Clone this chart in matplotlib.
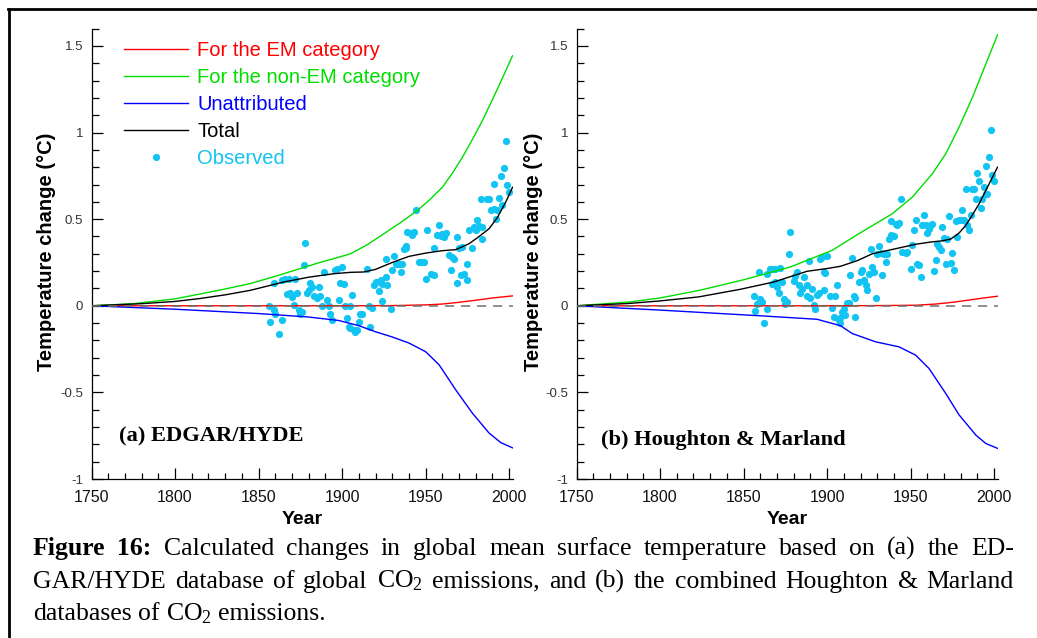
import matplotlib
matplotlib.use('Agg')
import matplotlib.pyplot as plt
from matplotlib.lines import Line2D
from matplotlib.ticker import MultipleLocator, FuncFormatter

plt.rcParams['font.family'] = ['Liberation Sans', 'DejaVu Sans']
plt.rcParams['axes.unicode_minus'] = False
plt.rcParams['mathtext.fontset'] = 'custom'
plt.rcParams['mathtext.rm'] = 'Liberation Serif'
plt.rcParams['mathtext.it'] = 'Liberation Serif:italic'
plt.rcParams['mathtext.bf'] = 'Liberation Serif:bold'

# ---------------- data : panel (a) EDGAR/HYDE ----------------
green_a_years = [1750, 1775, 1800, 1815, 1830, 1845, 1860, 1875, 1885, 1895, 1905, 1915, 1925,
                 1935, 1945, 1952, 1960, 1966, 1972, 1978, 1984, 1990, 1996, 2002]
green_a = [0, 0.012, 0.04, 0.068, 0.097, 0.128, 0.17, 0.215, 0.245, 0.272, 0.3, 0.352, 0.416,
           0.48, 0.55, 0.608, 0.684, 0.765, 0.857, 0.96, 1.069, 1.19, 1.315, 1.443]
black_a_years = [1750, 1780, 1800, 1815, 1830, 1845, 1865, 1880, 1895, 1905, 1913, 1920, 1930,
                 1940, 1950, 1960, 1968, 1976, 1982, 1988, 1993, 1998, 2002]
black_a = [0, 0.012, 0.025, 0.042, 0.063, 0.089, 0.137, 0.165, 0.185, 0.193, 0.195, 0.21, 0.25,
           0.285, 0.304, 0.318, 0.324, 0.358, 0.4, 0.445, 0.51, 0.6, 0.684]
red_a_years = [1750, 1800, 1850, 1900, 1930, 1950, 1960, 1970, 1980, 1990, 2002]
red_a = [0, 0, 0, 0, 0.001, 0.005, 0.01, 0.02, 0.032, 0.045, 0.057]
blue_a_years = [1750, 1800, 1850, 1880, 1898, 1910, 1920, 1930, 1940, 1950, 1958, 1968, 1978,
                1988, 1995, 2002]
blue_a = [0, -0.02, -0.045, -0.065, -0.085, -0.115, -0.15, -0.18, -0.215, -0.265, -0.34, -0.485,
          -0.62, -0.735, -0.79, -0.82]
obs_a_years = [1856, 1857, 1859, 1860, 1862, 1864, 1859, 1864, 1866, 1868,
               1867, 1869, 1870, 1872, 1873, 1871, 1874, 1875, 1876, 1878,
               1877, 1879, 1880, 1881, 1882, 1883, 1885, 1886, 1887, 1888,
               1889, 1891, 1892, 1893, 1894, 1896, 1897, 1898, 1899, 1900,
               1901, 1902, 1903, 1905, 1906, 1904, 1905, 1907, 1908, 1909,
               1910, 1911, 1912, 1915, 1916, 1917, 1918, 1919, 1920, 1922,
               1923, 1924, 1924, 1926, 1927, 1926, 1929, 1930, 1931, 1932,
               1933, 1934, 1935, 1936, 1937, 1938, 1938, 1939, 1941, 1942,
               1943, 1944, 1946, 1947, 1949, 1950, 1951, 1953, 1955, 1955,
               1957, 1958, 1959, 1960, 1961, 1962, 1964, 1965, 1966, 1967,
               1969, 1969, 1970, 1971, 1972, 1973, 1975, 1975, 1976, 1978,
               1979, 1980, 1981, 1982, 1984, 1984, 1983, 1987, 1988, 1989,
               1991, 1992, 1993, 1994, 1991, 1995, 1996, 1997, 1999, 2000, 1998]
obs_a = [0.0, -0.093, -0.025, -0.045, -0.164, -0.083, 0.134, 0.147, 0.157, 0.157,
         0.067, 0.071, 0.048, 0.157, 0.076, 0.003, -0.025, -0.045, -0.035, 0.364,
         0.238, 0.076, 0.09, 0.134, 0.109, 0.057, 0.042, 0.109, 0.057, 0.0,
         0.195, 0.032, 0.0, -0.048, -0.083, 0.209, 0.215, 0.032, 0.134, 0.224,
         0.128, 0.0, -0.073, 0.0, 0.061, -0.121, -0.131, -0.14, -0.15, -0.14,
         -0.093, -0.045, -0.045, 0.215, 0.0, -0.121, -0.012, 0.119, 0.138, 0.086,
         0.147, 0.026, 0.128, 0.167, 0.119, 0.272, -0.016, 0.205, 0.286, 0.244,
         0.24, 0.24, 0.195, 0.24, 0.33, 0.345, 0.336, 0.426, 0.42, 0.407,
         0.426, 0.554, 0.253, 0.253, 0.253, 0.157, 0.435, 0.186, 0.176, 0.336,
         0.407, 0.468, 0.401, 0.416, 0.397, 0.42, 0.291, 0.205, 0.282, 0.272,
         0.397, 0.134, 0.336, 0.176, 0.34, 0.186, 0.244, 0.147, 0.435, 0.336,
         0.455, 0.435, 0.493, 0.46, 0.455, 0.387, 0.614, 0.614, 0.614, 0.554,
         0.56, 0.503, 0.551, 0.624, 0.704, 0.748, 0.583, 0.796, 0.695, 0.656, 0.954]

# ---------------- data : panel (b) Houghton & Marland ----------------
green_b_years = [1750, 1782, 1800, 1824, 1850, 1878, 1903, 1919, 1939, 1951, 1963, 1971, 1979,
                 1987, 1995, 2002]
green_b = [0, 0.022, 0.045, 0.09, 0.15, 0.224, 0.32, 0.416, 0.531, 0.627, 0.762, 0.877, 1.031,
           1.203, 1.395, 1.564]
black_b_years = [1750, 1781, 1800, 1823, 1848, 1868, 1888, 1900, 1908, 1918, 1927, 1939, 1953,
                 1962, 1969, 1974, 1979, 1983, 1987, 1991, 1997, 2002]
black_b = [0, 0.013, 0.028, 0.051, 0.095, 0.137, 0.199, 0.215, 0.228, 0.26, 0.3, 0.325, 0.355,
           0.368, 0.375, 0.385, 0.42, 0.464, 0.525, 0.589, 0.704, 0.8]
red_b_years = [1750, 1800, 1850, 1900, 1930, 1953, 1965, 1975, 1985, 1993, 2002]
red_b = [0, 0, 0, 0, 0.001, 0.003, 0.01, 0.02, 0.033, 0.044, 0.055]
blue_b_years = [1750, 1800, 1862, 1894, 1908, 1915, 1929, 1943, 1953, 1961, 1971, 1979, 1989,
                1995, 2002]
blue_b = [0, -0.025, -0.059, -0.078, -0.115, -0.16, -0.208, -0.237, -0.285, -0.362, -0.506,
          -0.63, -0.746, -0.795, -0.823]
obs_b_years = [1856, 1857, 1858, 1860, 1861, 1862, 1864, 1859, 1864, 1866,
               1867, 1869, 1867, 1869, 1870, 1871, 1872, 1873, 1874, 1875,
               1876, 1877, 1878, 1880, 1881, 1882, 1883, 1884, 1885, 1886,
               1888, 1888, 1889, 1890, 1891, 1892, 1893, 1894, 1895, 1896,
               1897, 1898, 1899, 1900, 1898, 1902, 1903, 1904, 1905, 1906,
               1907, 1908, 1909, 1910, 1911, 1908, 1912, 1913, 1915, 1914,
               1916, 1917, 1917, 1919, 1920, 1921, 1922, 1923, 1924, 1925,
               1926, 1927, 1928, 1929, 1930, 1931, 1932, 1933, 1934, 1935,
               1936, 1937, 1938, 1940, 1938, 1941, 1942, 1943, 1944, 1945,
               1947, 1948, 1950, 1951, 1952, 1953, 1954, 1955, 1956, 1957,
               1958, 1959, 1960, 1961, 1962, 1963, 1964, 1965, 1966, 1967,
               1968, 1969, 1970, 1971, 1972, 1973, 1974, 1975, 1976, 1977,
               1978, 1979, 1980, 1981, 1982, 1983, 1984, 1985, 1986, 1987,
               1988, 1989, 1990, 1991, 1992, 1993, 1994, 1995, 1996, 1995,
               1997, 1998, 1999, 2000]
obs_b = [0.057, -0.031, 0.013, 0.038, 0.023, -0.102, -0.021, 0.195, 0.182, 0.215,
         0.215, 0.215, 0.128, 0.138, 0.109, 0.071, 0.218, 0.138, 0.038, 0.013,
         0.023, 0.297, 0.426, 0.144, 0.173, 0.195, 0.119, 0.071, 0.096, 0.167,
         0.119, 0.057, 0.259, 0.046, 0.096, 0.007, -0.021, 0.061, 0.071, 0.272,
         0.282, 0.195, 0.19, 0.286, 0.09, 0.057, -0.012, -0.064, 0.057, 0.119,
         -0.083, -0.069, -0.035, -0.021, -0.054, -0.098, 0.017, 0.017, 0.276, 0.176,
         0.057, 0.046, -0.064, 0.138, 0.195, 0.205, 0.147, 0.119, 0.09, 0.186,
         0.328, 0.224, 0.195, 0.046, 0.297, 0.344, 0.305, 0.176, 0.301, 0.253,
         0.297, 0.388, 0.407, 0.401, 0.487, 0.474, 0.464, 0.478, 0.618, 0.311,
         0.305, 0.311, 0.215, 0.349, 0.439, 0.497, 0.244, 0.234, 0.167, 0.464,
         0.526, 0.464, 0.42, 0.445, 0.464, 0.474, 0.199, 0.267, 0.359, 0.339,
         0.324, 0.455, 0.391, 0.24, 0.388, 0.516, 0.247, 0.305, 0.205, 0.489,
         0.397, 0.493, 0.493, 0.551, 0.493, 0.676, 0.464, 0.439, 0.526, 0.676,
         0.676, 0.614, 0.766, 0.718, 0.566, 0.618, 0.685, 0.647, 0.647, 0.806,
         0.858, 1.017, 0.756, 0.718]

legend_labels = ['For the EM category', 'For the non-EM category', 'Unattributed', 'Total',
                 'Observed']
panel_titles = ['(a) EDGAR/HYDE', '(b) Houghton & Marland']
x_label = 'Year'
y_label = 'Temperature change (°C)'
caption_lines = [
    ['*Figure', '*16:', 'Calculated', 'changes', 'in', 'global', 'mean', 'surface',
     'temperature', 'based', 'on', '(a)', 'the', 'ED-'],
    ['GAR/HYDE', 'database', 'of', 'global', 'CO$_2$', 'emissions,', 'and', '(b)', 'the',
     'combined', 'Houghton', '&', 'Marland'],
    ['databases', 'of', 'CO$_2$', 'emissions.'],
]

C_RED, C_GREEN, C_BLUE, C_BLACK, C_OBS = '#ff0000', '#00dd00', '#0000ff', '#000000', '#12c4f2'

W, H = 1037, 638
fig = plt.figure(figsize=(W / 100, H / 100), dpi=100)


def px_rect(left, right, top, bottom):
    return [left / W, 1 - bottom / H, (right - left) / W, (bottom - top) / H]


ax_a = fig.add_axes(px_rect(91.5, 512.5, 28.6, 479))
ax_b = fig.add_axes(px_rect(576.5, 997.5, 28.6, 479))


def fmt(v, p):
    v = round(v, 3) + 0.0
    return f'{v:g}'


def style(ax, ylab_x):
    ax.set_xlim(1750, 2002)
    ax.set_ylim(-1, 1.6)
    for s in ['top', 'right']:
        ax.spines[s].set_visible(False)
    for s in ['left', 'bottom']:
        ax.spines[s].set_linewidth(0.9)
    ax.xaxis.set_major_locator(MultipleLocator(50))
    ax.xaxis.set_minor_locator(MultipleLocator(10))
    ax.yaxis.set_major_locator(MultipleLocator(0.5))
    ax.yaxis.set_minor_locator(MultipleLocator(0.1))
    ax.yaxis.set_major_formatter(FuncFormatter(fmt))
    ax.tick_params(which='both', direction='in', width=0.9)
    ax.tick_params(axis='x', which='major', length=8, pad=8, labelsize=11.5, labelcolor='#111')
    ax.tick_params(axis='x', which='minor', length=4.5)
    ax.tick_params(axis='y', which='major', length=8, pad=6, labelsize=9.5, labelcolor='#333')
    ax.tick_params(axis='y', which='minor', length=5)
    ax.set_xlabel(x_label, fontsize=14, fontweight='bold', va='center')
    ax.xaxis.set_label_coords(0.5, -0.09)
    ax.set_ylabel(y_label, fontsize=14.5, fontweight='bold', va='center')
    ax.yaxis.set_label_coords(ylab_x, 0.504)


def draw(ax, g_y, g, k_y, k, r_y, r, b_y, b, o_y, o):
    ax.plot(o_y, o, ls='none', marker='o', ms=5.2, mec='none', color=C_OBS, zorder=2)
    ax.plot(r_y, r, color=C_RED, lw=1.0, zorder=3)
    ax.plot(g_y, g, color=C_GREEN, lw=1.0, zorder=3)
    ax.plot(b_y, b, color=C_BLUE, lw=1.0, zorder=3)
    ax.plot(k_y, k, color=C_BLACK, lw=1.0, zorder=3)
    ax.plot([1750, 2002], [0, 0], color='#707070', lw=1.1, dashes=(6, 4.5), zorder=4)


draw(ax_a, green_a_years, green_a, black_a_years, black_a, red_a_years, red_a,
     blue_a_years, blue_a, obs_a_years, obs_a)
draw(ax_b, green_b_years, green_b, black_b_years, black_b, red_b_years, red_b,
     blue_b_years, blue_b, obs_b_years, obs_b)
style(ax_a, -0.106)
style(ax_b, -0.103)

ax_a.text(0.0665, 0.094, panel_titles[0], transform=ax_a.transAxes, family='Liberation Serif',
          fontweight='bold', fontsize=16.2, va='center', ha='left')
ax_b.text(0.058, 0.087, panel_titles[1], transform=ax_b.transAxes, family='Liberation Serif',
          fontweight='bold', fontsize=16.2, va='center', ha='left')

handles = [Line2D([], [], color=C_RED, lw=1.0), Line2D([], [], color=C_GREEN, lw=1.0),
           Line2D([], [], color=C_BLUE, lw=1.0), Line2D([], [], color=C_BLACK, lw=1.0),
           Line2D([], [], ls='none', marker='o', ms=5.2, mec='none', color=C_OBS)]
leg = ax_a.legend(handles, legend_labels, loc='upper left', bbox_to_anchor=(0.077, 0.972),
                  frameon=False, fontsize=14.5, handlelength=3.2, handletextpad=0.45,
                  labelspacing=0.4, borderpad=0, borderaxespad=0, numpoints=1)
for t, c in zip(leg.get_texts(), [C_RED, C_GREEN, C_BLUE, C_BLACK, C_OBS]):
    t.set_color(c)

# figure frame (left and top rules)
fig.add_artist(Line2D([8.7 / W, 8.7 / W], [0, 1 - 8.7 / H], color='black', lw=2.0,
                      transform=fig.transFigure))
fig.add_artist(Line2D([7.7 / W, 1], [1 - 8.7 / H, 1 - 8.7 / H], color='black', lw=2.0,
                      transform=fig.transFigure))

# caption, justified like the source
renderer = fig.canvas.get_renderer()
x_left, x_right = 33, 1014
baselines = [555, 587.7, 620]
cap_size = 18.5
for li, (words, base) in enumerate(zip(caption_lines, baselines)):
    texts = []
    for w in words:
        bold = w.startswith('*')
        s = w[1:] if bold else w
        t = fig.text(0, 1 - base / H, s, family='Liberation Serif', fontsize=cap_size,
                     fontweight='bold' if bold else 'normal', va='baseline', ha='left')
        texts.append(t)
    widths = [t.get_window_extent(renderer).width for t in texts]
    if li < 2:
        gap = (x_right - x_left - sum(widths)) / (len(texts) - 1)
    else:
        gap = 0.25 * cap_size * 100 / 72
    x = x_left
    for t, wd in zip(texts, widths):
        t.set_x(x / W)
        x += wd + gap

fig.savefig('out.png', dpi=100)
